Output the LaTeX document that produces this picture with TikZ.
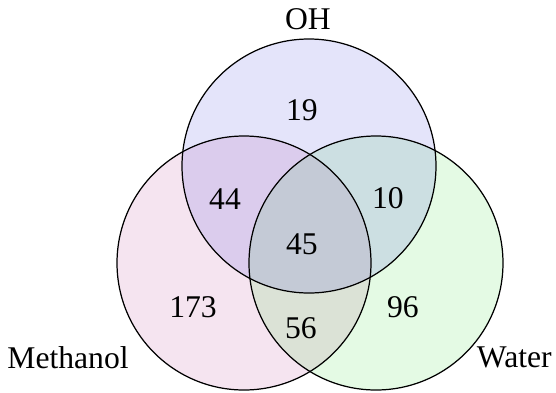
\documentclass[tikz,border=0pt]{standalone}
\usepackage{fontspec}
\setmainfont{Liberation Serif}
\usetikzlibrary{positioning}
\definecolor{ohcol}{RGB}{30,30,213}
\definecolor{methcol}{RGB}{172,30,130}
\definecolor{watcol}{RGB}{30,213,30}

\begin{document}
\begin{tikzpicture}[x=0.02cm, y=-0.02cm,
		setfill/.style={fill opacity=0.12},
		setline/.style={draw=black, line width=0.7pt},
		count/.style={font=\fontsize{18pt}{21pt}\selectfont, inner sep=0pt},
		setname/.style={font=\fontsize{18pt}{21pt}\selectfont, inner sep=0pt, anchor=base}]
		\useasboundingbox (0,0) rectangle (556,393);

		% the three sets
		\fill[setfill, methcol] (244,263) circle (127);
		\fill[setfill, watcol] (376,263) circle (127);
		\fill[setfill, ohcol] (309,166) circle (127);
		\draw[setline] (309,166) circle (127);
		\draw[setline] (244,263) circle (127);
		\draw[setline] (376,263) circle (127);

		% set names
		\node[setname] (oh) at (308,29) {OH};
		\node[setname] (methanol) at (68,368) {Methanol};
		\node[setname, anchor=base east] (water) at (552,367) {Water};

		% counts
		\node[count] (n19) at (302,110) {19};
		\node[count] (n44) at (225,199) {44};
		\node[count] (n10) at (388,198) {10};
		\node[count] (n45) at (302,244) {45};
		\node[count] (n173) at (193,307) {173};
		\node[count] (n96) at (403,307) {96};
		\node[count] (n56) at (301,328) {56};
	\end{tikzpicture}
\end{document}
